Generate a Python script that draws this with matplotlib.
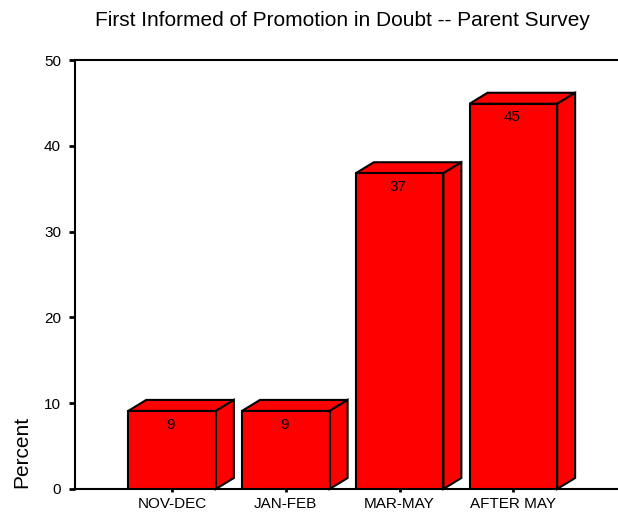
import matplotlib
matplotlib.use("Agg")
import matplotlib.pyplot as plt
from matplotlib.patches import Polygon

categories = ["NOV-DEC", "JAN-FEB", "MAR-MAY", "AFTER MAY"]
percents = [9, 9, 37, 45]
bar_heights = [9.1, 9.1, 36.8, 44.9]
yticks = [0, 10, 20, 30, 40, 50]

plt.rcParams['font.family'] = ['Liberation Sans', 'DejaVu Sans']

W, H = 618, 512
fig = plt.figure(figsize=(W / 100, H / 100), dpi=100)
ax = fig.add_axes([75 / W, 1 - 489 / H, (W - 75) / W, (489 - 60) / H])

bar_w = 0.77
dx = 18 / 113.7
dy = 11 / 8.58
lw = 1.5

ax.bar(range(len(bar_heights)), bar_heights, width=bar_w, color="#ff0000", edgecolor="black", linewidth=lw, zorder=3)
for i, h in enumerate(bar_heights):
    l = i - bar_w / 2
    r = i + bar_w / 2
    top = Polygon([(l, h), (l + dx, h + dy), (r + dx, h + dy), (r, h)], facecolor="#ff0000", edgecolor="black", linewidth=lw, zorder=2, clip_on=False)
    side = Polygon([(r, 0), (r + dx, dy), (r + dx, h + dy), (r, h)], facecolor="#ff0000", edgecolor="black", linewidth=lw, zorder=2, clip_on=False)
    ax.add_patch(top)
    ax.add_patch(side)
    ax.text(i - 0.015, h - 1.6, str(percents[i]), ha="center", va="center", fontsize=11, color="black", zorder=4)

ax.set_xlim(-0.853, 3.92)
ax.set_ylim(0, 50)
ax.set_yticks(yticks)
ax.set_xticks(range(len(categories)))
ax.set_xticklabels(categories)
ax.tick_params(axis="y", length=4, width=2, labelsize=11, pad=6)
ax.tick_params(axis="x", length=2, width=2, labelsize=11, pad=4)
ax.get_yticklabels()[0].set_y(0.9)

ax.spines["right"].set_visible(False)
for s in ["left", "top", "bottom"]:
    ax.spines[s].set_linewidth(1.5)

fig.text(342 / W, 1 - 21 / H, "First Informed of Promotion in Doubt -- Parent Survey", ha="center", va="center", fontsize=15)
fig.text(22 / W, 1 - 488 / H, "Percent", rotation=90, ha="center", va="bottom", fontsize=15)

fig.savefig("out.png", dpi=100)
